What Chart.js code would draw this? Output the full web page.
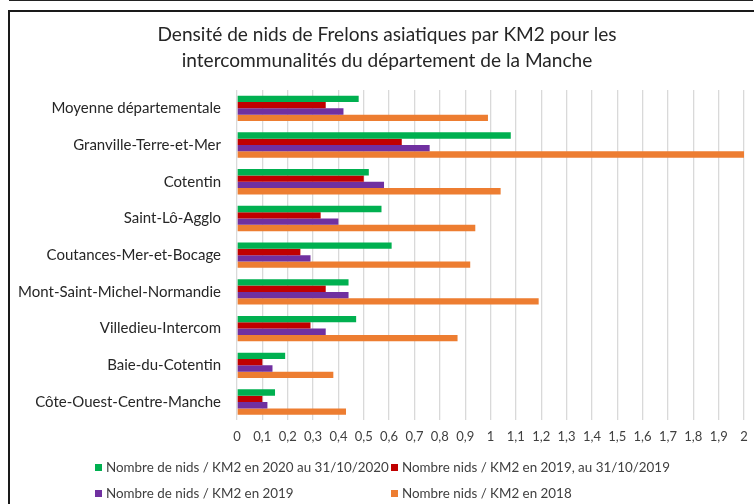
<!DOCTYPE html>
<html>
<head>
<meta charset="utf-8">
<script src="https://cdn.jsdelivr.net/npm/chart.js@4"></script>
<style>
  html, body { margin: 0; padding: 0; background: #fff; overflow: hidden; }
  body { width: 754px; height: 504px; position: relative; font-family: Lato, sans-serif; }
  .topbox { position: absolute; left: 9px; top: -10px; width: 742px; height: 10px;
            border: 1.5px solid #222; border-top: none; }
  .frame { position: absolute; left: 8px; top: 10px; width: 800px; height: 600px;
           border-left: 2px solid #1a1a1a; border-top: 2px solid #1a1a1a; }
  #wrap { position: absolute; left: 10px; top: 12px; width: 754px; height: 492px; }
  #legend { position: absolute; left: 95px; top: 458px; display: grid;
            grid-template-columns: 296px auto; row-gap: 8px; font-size: 13.4px; color: #404040; }
  #legend div { display: flex; align-items: center; height: 18px; white-space: nowrap; }
  #legend span.sw { width: 7px; height: 7px; margin-right: 4px; display: inline-block; }
</style>
</head>
<body>
<div class="topbox"></div>
<div class="frame"></div>
<div id="wrap"><canvas id="nidsChart"></canvas></div>
<div id="legend"></div>
<script>
const categories = ['Moyenne départementale','Granville-Terre-et-Mer','Cotentin','Saint-Lô-Agglo',
  'Coutances-Mer-et-Bocage','Mont-Saint-Michel-Normandie','Villedieu-Intercom','Baie-du-Cotentin',
  'Côte-Ouest-Centre-Manche'];
const nids2020 = [0.48, 1.08, 0.52, 0.57, 0.61, 0.44, 0.47, 0.19, 0.15];
const nids2019Oct = [0.35, 0.65, 0.50, 0.33, 0.25, 0.35, 0.29, 0.10, 0.10];
const nids2019 = [0.42, 0.76, 0.58, 0.40, 0.29, 0.44, 0.35, 0.14, 0.12];
const nids2018 = [0.99, 2.00, 1.04, 0.94, 0.92, 1.19, 0.87, 0.38, 0.43];
const seriesLabels = ['Nombre de nids / KM2 en 2020 au 31/10/2020','Nombre nids / KM2 en 2019, au 31/10/2019',
  'Nombre de nids / KM2 en 2019','Nombre nids / KM2 en 2018'];
const seriesColors = ['#00b050','#c00000','#7030a0','#ed7d31'];
const titleLines = ['Densité de nids de Frelons asiatiques par KM2 pour les',
  'intercommunalités du département de la Manche'];

const seriesValues = [nids2020, nids2019Oct, nids2019, nids2018];

const ctx = document.getElementById('nidsChart');

new Chart(ctx, {
  type: 'bar',
  data: {
    labels: categories,
    datasets: seriesValues.map((vals, i) => ({
      label: seriesLabels[i],
      data: vals,
      backgroundColor: seriesColors[i],
      borderWidth: 0,
      categoryPercentage: 0.69,
      barPercentage: 1
    }))
  },
  options: {
    indexAxis: 'y',
    responsive: true,
    maintainAspectRatio: false,
    animation: false,
    layout: { padding: { left: 0, right: 0, top: 0, bottom: 50 } },
    plugins: {
      legend: { display: false },
      tooltip: { enabled: false },
      title: {
        display: true,
        text: titleLines,
        color: '#262626',
        font: { family: 'Lato', size: 19.1, weight: 'normal', lineHeight: 1.36 },
        padding: { top: 10, bottom: 16 }
      }
    },
    scales: {
      x: {
        min: 0, max: 2,
        border: { display: false },
        grid: { color: '#d9d9d9', lineWidth: 1.3, drawTicks: false },
        ticks: {
          stepSize: 0.1, padding: 9, color: '#404040',
          font: { family: 'Lato', size: 13 },
          maxRotation: 0, autoSkip: false,
          callback: v => String(Math.round(v * 10) / 10).replace('.', ',')
        }
      },
      y: {
        border: { display: false },
        grid: { display: false, drawTicks: false },
        afterFit: s => { s.width = 227; },
        ticks: { padding: 16, color: '#262626', font: { family: 'Lato', size: 15 } }
      },
      // empty right-hand spacer so the plot stops before the canvas edge
      yRight: {
        type: 'linear',
        position: 'right',
        border: { display: false },
        grid: { display: false, drawTicks: false },
        ticks: { display: false },
        afterFit: s => { s.width = 20; }
      }
    }
  }
});

const legend = document.getElementById('legend');
seriesLabels.forEach((lab, i) => {
  const d = document.createElement('div');
  const sw = document.createElement('span');
  sw.className = 'sw';
  sw.style.background = seriesColors[i];
  d.appendChild(sw);
  d.appendChild(document.createTextNode(lab));
  legend.appendChild(d);
});
</script>
</body>
</html>
